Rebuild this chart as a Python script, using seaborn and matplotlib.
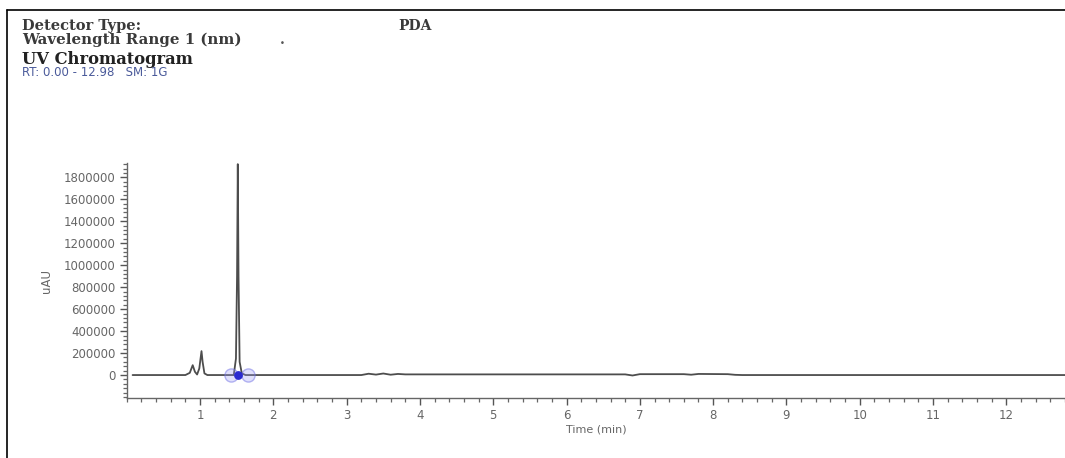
import numpy as np
import pandas as pd
import matplotlib
matplotlib.use("Agg")
import matplotlib.pyplot as plt
import seaborn as sns
from matplotlib.ticker import MultipleLocator

# ---- data ----
time_min = [0.08, 0.80, 0.86, 0.90, 0.93, 0.96, 0.99, 1.02, 1.035, 1.06, 1.10,
            1.46, 1.49, 1.505, 1.515, 1.525, 1.54, 1.57, 1.62,
            3.20, 3.30, 3.40, 3.50, 3.60, 3.70, 3.80,
            6.80, 6.90, 7.00, 7.60, 7.70, 7.80, 8.20, 8.30, 8.40, 12.80]
signal_uau = [0, 0, 20000, 90000, 30000, 5000, 60000, 218000, 120000, 15000, 0,
              0, 150000, 900000, 1920000, 900000, 120000, 15000, 0,
              0, 12000, 4000, 14000, 3000, 10000, 6000,
              6000, -4000, 8000, 8000, 3000, 10000, 8000, 2000, 0, 0]
marker_times = [1.42, 1.66]
apex_time = [1.515]

y_ticks = [0, 200000, 400000, 600000, 800000, 1000000, 1200000, 1400000, 1600000, 1800000]
x_ticks = list(range(1, 13))

df = pd.DataFrame({"Time (min)": time_min, "uAU": signal_uau})

sns.set_theme(style="white")
plt.rcParams['font.family'] = ['DejaVu Sans']

fig = plt.figure(figsize=(10.65, 4.58), dpi=100)
ax = fig.add_axes([0.119, 0.131, 0.881, 0.513])

sns.lineplot(data=df, x="Time (min)", y="uAU", ax=ax, color="#4d4d4d",
             linewidth=1.3, estimator=None, sort=False)

# peak boundary markers
ax.scatter(marker_times, [0, 0], s=90, facecolor=(0.6, 0.6, 0.95, 0.3),
           edgecolor=(0.45, 0.45, 0.9, 0.5), linewidth=1.0, zorder=3)
ax.scatter(apex_time, [0], s=28, color="#2a2ad0", zorder=4)

ax.set_xlim(0, 12.8)
ax.set_ylim(-209000, 1930000)
ax.set_xticks(x_ticks)
ax.set_xticklabels([str(t) for t in x_ticks])
ax.set_yticks(y_ticks)
ax.set_yticklabels([str(t) for t in y_ticks])
ax.xaxis.set_minor_locator(MultipleLocator(0.2))
ax.yaxis.set_minor_locator(MultipleLocator(40000))

for s in ["top", "right"]:
    ax.spines[s].set_visible(False)
for s in ["left", "bottom"]:
    ax.spines[s].set_color("#666666")
    ax.spines[s].set_linewidth(1.0)

ax.tick_params(axis="both", which="major", direction="out", length=5, width=1.0,
               color="#555555", labelcolor="#666666", labelsize=8.5, pad=3,
               bottom=True, left=True)
ax.tick_params(axis="both", which="minor", direction="out", length=3, width=0.9,
               color="#666666", bottom=True, left=True)
ax.set_xlabel("Time (min)", fontsize=8, color="#666666", labelpad=2)
ax.set_ylabel("uAU", fontsize=8.5, color="#666666", labelpad=8)
ax.grid(False)

# header texts
serif = ["DejaVu Serif"]
fig.text(22/1065, 1-30/458, "Detector Type:", family=serif, weight="bold",
         fontsize=10.5, color="#3a3a3a", va="baseline")
fig.text(398/1065, 1-30/458, "PDA", family=serif, weight="bold",
         fontsize=10, color="#3a3a3a", va="baseline")
fig.text(22/1065, 1-44/458, "Wavelength Range 1 (nm)", family=serif, weight="bold",
         fontsize=10.8, color="#3a3a3a", va="baseline")
fig.text(280/1065, 1-44/458, ".", family=serif, weight="bold",
         fontsize=10, color="#555555", va="baseline")
fig.text(22/1065, 1-64/458, "UV Chromatogram", family=serif, weight="bold",
         fontsize=11.8, color="#222222", va="baseline")
fig.text(22/1065, 1-76/458, "RT: 0.00 - 12.98   SM: 1G", fontsize=8.5,
         color="#4a5a9a", va="baseline")

# frame lines of the clipped figure
fig.add_artist(plt.Line2D([7/1065, 1.0], [1-10/458, 1-10/458], color="black", linewidth=1.2))
fig.add_artist(plt.Line2D([7/1065, 7/1065], [0, 1-10/458], color="black", linewidth=1.2))

fig.savefig("out.png", dpi=100, facecolor="white")
